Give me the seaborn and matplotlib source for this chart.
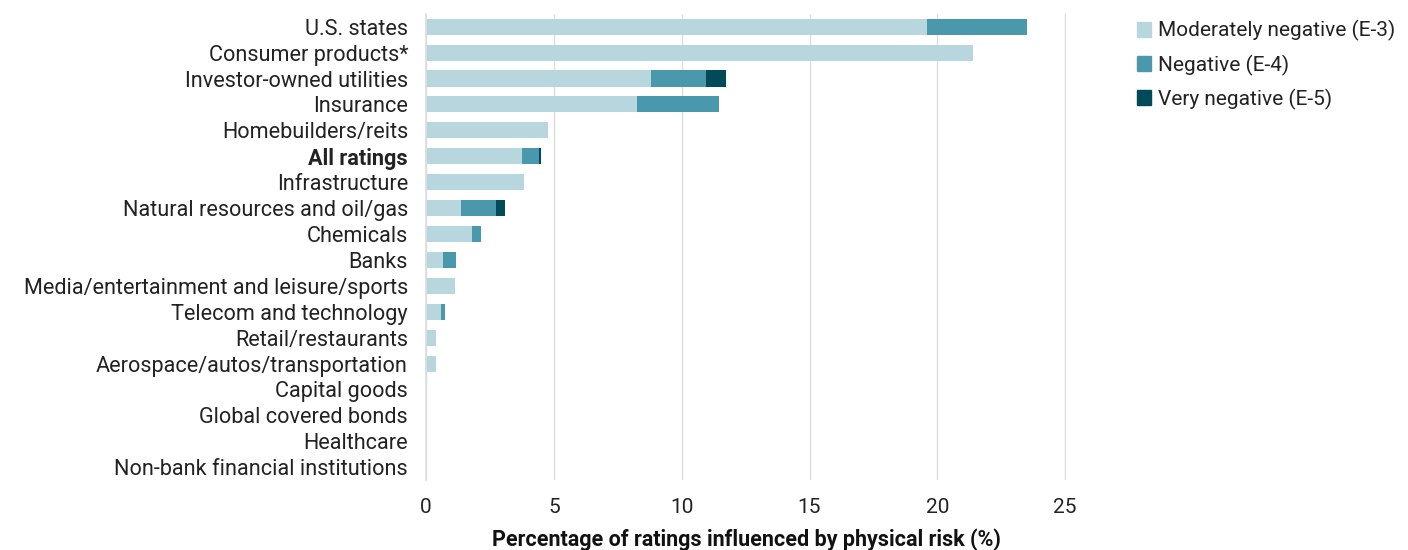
import matplotlib.pyplot as plt
import pandas as pd
import seaborn as sns
from matplotlib.patches import Patch

categories = [
    "U.S. states",
    "Consumer products*",
    "Investor-owned utilities",
    "Insurance",
    "Homebuilders/reits",
    "All ratings",
    "Infrastructure",
    "Natural resources and oil/gas",
    "Chemicals",
    "Banks",
    "Media/entertainment and leisure/sports",
    "Telecom and technology",
    "Retail/restaurants",
    "Aerospace/autos/transportation",
    "Capital goods",
    "Global covered bonds",
    "Healthcare",
    "Non-bank financial institutions",
]
moderately_negative = [19.6, 21.4, 8.8, 8.25, 4.78, 3.76, 3.84, 1.35, 1.79, 0.68,
                       1.15, 0.57, 0.39, 0.37, 0, 0, 0, 0]
negative = [3.9, 0, 2.15, 3.2, 0, 0.64, 0, 1.37, 0.34, 0.49,
            0, 0.17, 0, 0, 0, 0, 0, 0]
very_negative = [0, 0, 0.8, 0, 0, 0.1, 0, 0.37, 0, 0,
                 0, 0, 0, 0, 0, 0, 0, 0]
series_labels = ["Moderately negative (E-3)", "Negative (E-4)", "Very negative (E-5)"]
colors = ["#b8d6dd", "#4a98ab", "#004a5a"]

df = pd.DataFrame({
    "category": categories,
    "e3": moderately_negative,
    "e4": negative,
    "e5": very_negative,
})
df["upto_e4"] = df["e3"] + df["e4"]
df["total"] = df["upto_e4"] + df["e5"]

sns.set_theme(style="white")
plt.rcParams["font.family"] = ["Roboto", "DejaVu Sans"]

fig = plt.figure(figsize=(14.08, 5.5), dpi=100)
ax = fig.add_axes([0.3026, 0.127, 0.4548, 0.848])

# stacked look: draw cumulative totals from largest to smallest
for col, color in zip(["total", "upto_e4", "e3"], colors[::-1]):
    sns.barplot(data=df, x=col, y="category", orient="h", color=color,
                width=0.62, ax=ax, linewidth=0, saturation=1)

ax.set_xlim(0, 25.05)
ax.set_xticks([0, 5, 10, 15, 20, 25])
ax.xaxis.grid(True, color="#dddddd", linewidth=1)
ax.set_axisbelow(True)
for side in ["top", "right", "bottom"]:
    ax.spines[side].set_visible(False)
ax.spines["left"].set_color("#dddddd")
ax.spines["left"].set_linewidth(1.2)

ax.tick_params(axis="x", labelsize=15, colors="#222222", length=0, pad=13)
ax.tick_params(axis="y", labelsize=15.6, colors="#222222", length=0, pad=13)
ax.set_ylabel("")
ax.set_xlabel("Percentage of ratings influenced by physical risk (%)",
              fontsize=15.5, fontweight="bold", color="#111111", labelpad=8)
for label in ax.get_yticklabels():
    if label.get_text() == "All ratings":
        label.set_fontweight("bold")

handles = [Patch(color=c, label=l) for c, l in zip(colors, series_labels)]
fig.legend(handles=handles, loc="upper left", bbox_to_anchor=(0.794, 0.997),
           frameon=False, fontsize=15, handlelength=0.7, handleheight=0.7,
           handletextpad=0.3, labelspacing=0.62, labelcolor="#222222")

fig.savefig("out.png", dpi=100)
